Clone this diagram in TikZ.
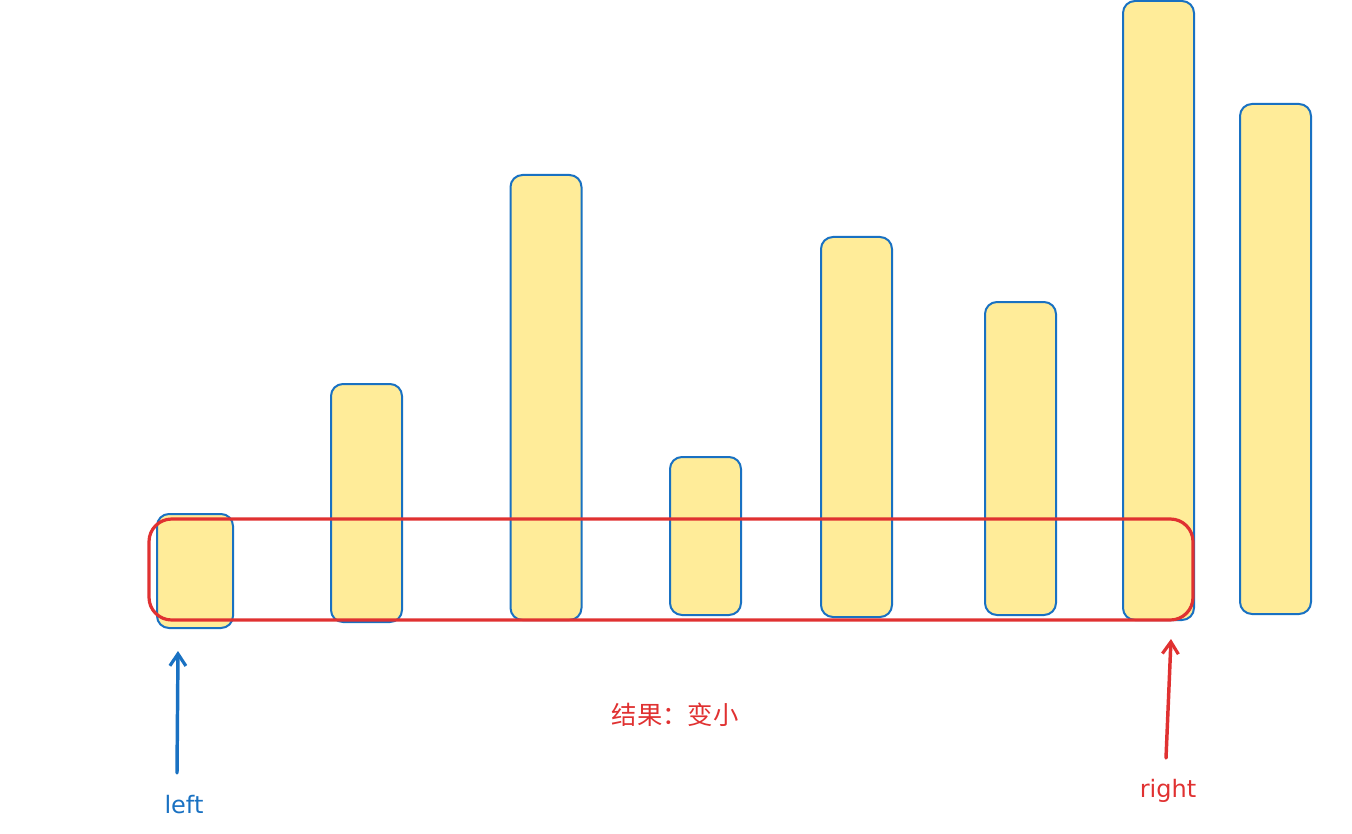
\documentclass[tikz,border=0pt]{standalone}
\usepackage{fontspec}
\setmainfont{DejaVu Sans}
\newfontfamily\cjk{Noto Sans CJK SC}
\usetikzlibrary{positioning,arrows.meta}

\definecolor{barfill}{HTML}{FFEC99}
\definecolor{barline}{HTML}{1971C2}
\definecolor{winred}{HTML}{E03131}

\begin{document}
\begin{tikzpicture}[x=0.75pt, y=-0.75pt]
	\useasboundingbox (0, 0) rectangle (1352, 834);
	\begin{scope}
		\tikzstyle{every node}=[inner sep=0pt]
		\tikzstyle{bar}=[draw=barline, fill=barfill, line width=1.5pt, rounded corners=9pt, minimum width=53.25pt]
		\tikzstyle{ptr}=[line width=2.6pt, line cap=round, -{Straight Barb[length=9pt, width=12pt, line width=2.4pt]}]

		% bars
		\node [bar, minimum width=57pt, minimum height=85.5pt] (b1) at (195, 571)    {};
		\node [bar, minimum height=178.5pt]  (b2) at (366.5, 503)  {};
		\node [bar, minimum height=333.75pt] (b3) at (546, 397.5)  {};
		\node [bar, minimum height=118.5pt]  (b4) at (705.5, 536)  {};
		\node [bar, minimum height=285pt]    (b5) at (856.5, 427)  {};
		\node [bar, minimum height=234.75pt] (b6) at (1020.5, 458.5) {};
		\node [bar, minimum height=464.25pt] (b7) at (1158.5, 310.5) {};
		\node [bar, minimum height=382.5pt]  (b8) at (1275.5, 359)  {};

		% window
		\node [draw=winred, line width=2.4pt, rounded corners=17pt, minimum width=783pt, minimum height=75.75pt] (win) at (671, 569.5) {};

		\node [text=barline, font=\fontsize{18}{22}\selectfont] (leftlbl)  at (184, 805)  {left};
		\node [text=winred, font=\fontsize{18}{22}\selectfont]  (rightlbl) at (1168, 791) {right};
		\node [text=winred, font=\cjk\fontsize{19}{22}\selectfont] (res) at (675, 715) {结果：变小};

		\coordinate (lefttail)  at (177, 773);
		\coordinate (lefthead)  at (178, 651);
		\coordinate (righttail) at (1166, 758);
		\coordinate (righthead) at (1171, 639);

		\draw [ptr, barline] (lefttail) to (lefthead);
		\draw [ptr, winred] (righttail) to (righthead);
	\end{scope}
\end{tikzpicture}
\end{document}
